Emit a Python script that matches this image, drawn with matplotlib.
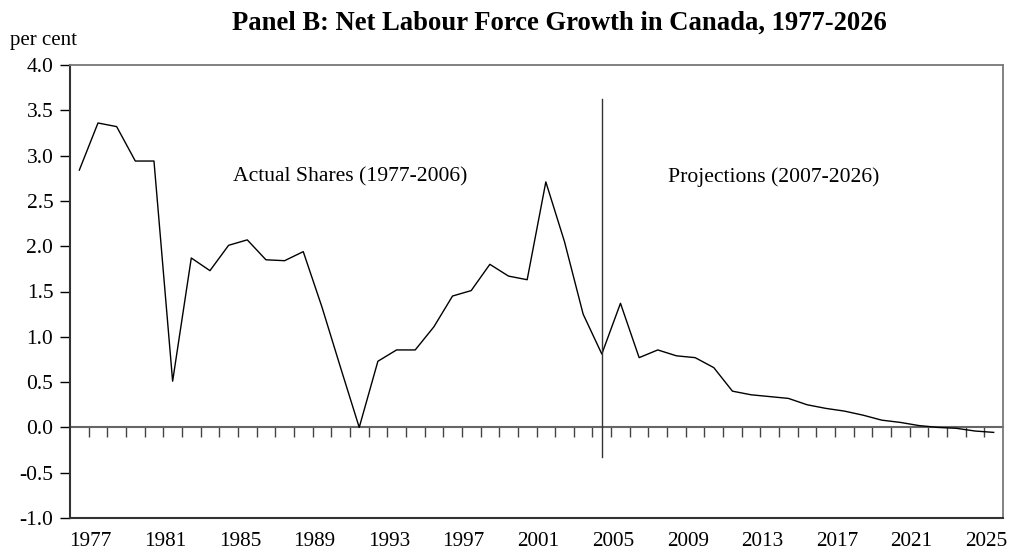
import matplotlib
matplotlib.use("Agg")
import matplotlib.pyplot as plt
import numpy as np

plt.rcParams['font.family'] = ['Liberation Serif', 'DejaVu Serif']

# labour force growth, per cent, 1977-2026
years = list(range(1977, 2027))
growth = [2.84, 3.36, 3.32, 2.94, 2.94, 0.51, 1.87, 1.73, 2.01, 2.07,
          1.85, 1.84, 1.94, 1.33, 0.66, 0.00, 0.73, 0.855, 0.855, 1.11,
          1.45, 1.51, 1.80, 1.67, 1.63, 2.71, 2.05, 1.25, 0.81, 1.37,
          0.77, 0.855, 0.79, 0.77, 0.66, 0.40, 0.36, 0.34, 0.32, 0.25,
          0.21, 0.18, 0.135, 0.08, 0.055, 0.02, 0.00, -0.01, -0.04, -0.055]
split_year = 2005
label_years = list(range(1977, 2026, 4))

x = np.arange(len(years))

fig = plt.figure(figsize=(10.09, 5.57), dpi=100)
ax = fig.add_axes([70 / 1009, 1 - 518 / 557, 933 / 1009, 453 / 557])

ax.plot(x, growth, color='black', lw=1.0)

split_i = years.index(split_year)
ax.plot([split_i, split_i], [-0.33, 3.62], color='#333333', lw=1.0)

ax.set_xlim(-0.5, len(years) - 0.5)
ax.set_ylim(-1.0, 4.0)

# y axis
ax.set_yticks(np.arange(-1.0, 4.01, 0.5))
ax.set_yticklabels(['%.1f' % v for v in np.arange(-1.0, 4.01, 0.5)])
ax.tick_params(axis='y', direction='out', length=7, width=1, labelsize=15.5, pad=5)

# x labels at bottom, no tick marks
lab_pos = [years.index(y) + 0.6 for y in label_years]
ax.set_xticks(lab_pos)
ax.set_xticklabels([str(y) for y in label_years])
ax.tick_params(axis='x', length=0, labelsize=15.3, pad=10)

# zero line with category tick marks
zero = ax.secondary_xaxis(0.2)
zero.set_xticks(np.arange(0.5, len(years) - 0.5, 1.0))
zero.set_xticklabels([])
zero.tick_params(axis='x', direction='out', length=7, width=1, color='#444444')
zero.spines['bottom'].set_color('#666666')
zero.spines['bottom'].set_linewidth(1.5)

for s in ['top', 'right']:
    ax.spines[s].set_color('#777777')
    ax.spines[s].set_linewidth(1.3)
ax.spines['left'].set_color('#333333')
ax.spines['left'].set_linewidth(1.5)
ax.spines['bottom'].set_color('#333333')
ax.spines['bottom'].set_linewidth(1.5)

ax.text(14.5, 2.76, 'Actual Shares (1977-2006)', fontsize=15.6, ha='center', va='center')
ax.text(37.2, 2.76, 'Projections (2007-2026)', fontsize=15.6, ha='center', va='center')

fig.text(559 / 1009, 1 - 23 / 557, 'Panel B: Net Labour Force Growth in Canada, 1977-2026',
         fontsize=19.2, fontweight='bold', ha='center', va='center')
fig.text(10 / 1009, 1 - 40 / 557, 'per cent', fontsize=15, ha='left', va='center')

fig.savefig('out.png', dpi=100)
